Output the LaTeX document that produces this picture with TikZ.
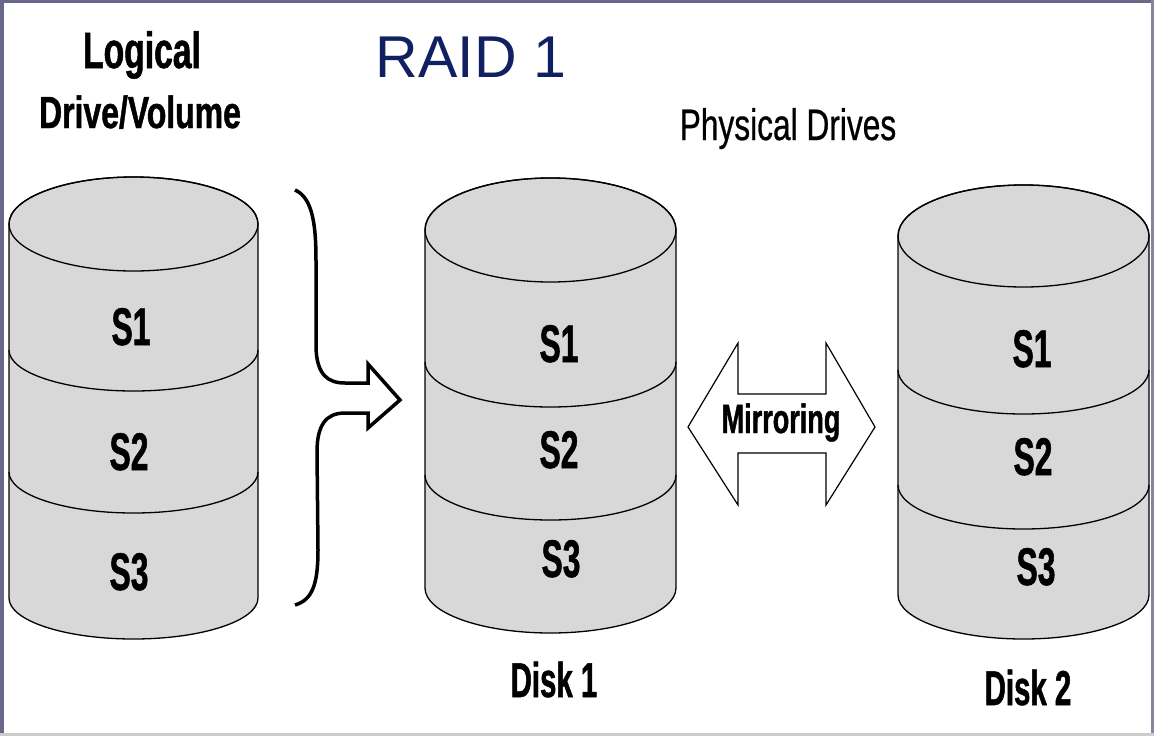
\documentclass[tikz,border=0pt]{standalone}
\usepackage{fontspec}
\setmainfont{Liberation Sans}
\newfontfamily\fS{Liberation Sans Bold}[FakeStretch=0.6,FakeBold=1]
\newfontfamily\fM{Liberation Sans Bold}[FakeStretch=0.66,FakeBold=1]
\newfontfamily\fL{Liberation Sans Bold}[FakeStretch=0.71,FakeBold=1]
\newfontfamily\fR{Liberation Sans}[FakeStretch=0.72,FakeBold=0.6]
\definecolor{framec}{RGB}{104,104,140}
\definecolor{raidblue}{RGB}{16,32,96}
\definecolor{diskgray}{RGB}{216,216,216}
\tikzset{
  cylline/.style={draw=black,line width=1.3pt},
  cylfill/.style={fill=diskgray,draw=black,line width=1.3pt},
  slabel/.style={anchor=base,inner sep=0pt,font=\fS\fontsize{53}{53}\selectfont},
  disklabel/.style={anchor=base,inner sep=0pt,font=\fS\fontsize{49}{49}\selectfont},
  brace/.style={draw=black,line width=3.5pt,line join=miter,fill=none},
  mirror/.style={draw=black,line width=1.2pt,fill=white,line join=miter}
}
% #1 left x, #2 right x, #3 top centre y, #4 top ry, #5 divider1 y, #6 divider2 y, #7 bottom y, #8 ry
\newcommand\mycyl[8]{%
  \pgfmathsetmacro\rx{(#2-#1)/2}%
  \pgfmathsetmacro\cx{(#2+#1)/2}%
  \path[cylfill] (#1,#3) -- (#1,#7) arc[start angle=180,end angle=360,x radius=\rx pt,y radius=#8pt]
     -- (#2,#3) arc[start angle=0,end angle=180,x radius=\rx pt,y radius=#4pt] -- cycle;
  \draw[cylline] (\cx,#3) ellipse[x radius=\rx pt,y radius=#4pt];
  \draw[cylline] (#1,#5) arc[start angle=180,end angle=360,x radius=\rx pt,y radius=#8pt];
  \draw[cylline] (#1,#6) arc[start angle=180,end angle=360,x radius=\rx pt,y radius=#8pt];
}
\begin{document}
\begin{tikzpicture}[x=1pt,y=-1pt]
\useasboundingbox (0,0) rectangle (1154,736);
\fill[white] (0,0) rectangle (1154,736);
% frame
\fill[framec] (0,0) rectangle (4,736);
\fill[framec] (0,0) rectangle (1154,3);
\fill[framec!80] (1151,0) rectangle (1154,736);
\fill[black!20] (0,733) rectangle (1154,736);

% titles
\node[anchor=base,inner sep=0pt,font=\fM\fontsize{51}{51}\selectfont] (logical) at (142,68) {Logical};
\node[anchor=base,inner sep=0pt,font=\fL\fontsize{45}{45}\selectfont] (drivevol) at (140,128) {Drive/Volume};
\node[anchor=base,inner sep=0pt,text=raidblue,font=\fontsize{59}{59}\selectfont] (raid) at (471,77) {RAID 1};
\node[anchor=base,inner sep=0pt,font=\fR\fontsize{44}{44}\selectfont] (physical) at (788,140) {Physical Drives};

% cylinders
\mycyl{9}{258}{224}{47}{350}{472}{598}{41}
\mycyl{425}{676}{230}{52}{362}{475}{588}{45}
\mycyl{898}{1149}{236}{51}{370}{485}{595}{44}

% segment labels
\node[slabel] (l1) at (131,345) {S1};
\node[slabel] (l2) at (129,470) {S2};
\node[slabel] (l3) at (129,590) {S3};
\node[slabel] (m1) at (559,362) {S1};
\node[slabel] (m2) at (559,468) {S2};
\node[slabel] (m3) at (561,577) {S3};
\node[slabel] (r1) at (1032,367) {S1};
\node[slabel] (r2) at (1033,475) {S2};
\node[slabel] (r3) at (1036,585) {S3};

\node[disklabel] (disk1) at (554,697) {Disk 1};
\node[disklabel] (disk2) at (1028,705) {Disk 2};

% brace arrow
\draw[brace] (295,190) .. controls (314,198) and (316,230) .. (316,262)
  -- (316,348) .. controls (317,375) and (328,383) .. (345,383)
  -- (368,383) -- (368,364) -- (400,400) -- (368,428) -- (368,413)
  -- (345,413) .. controls (326,413) and (317,425) .. (317,452)
  -- (318,550) .. controls (318,585) and (312,600) .. (295,605);

% mirroring arrow
\draw[mirror] (688,427) -- (738,343) -- (738,394) -- (826,394) -- (826,343)
  -- (875,427) -- (826,505) -- (826,453) -- (738,453) -- (738,505) -- cycle;
\node[anchor=base,inner sep=0pt,font=\fM\fontsize{41}{41}\selectfont] (mirroring) at (781,433) {Mirroring};
\end{tikzpicture}
\end{document}
